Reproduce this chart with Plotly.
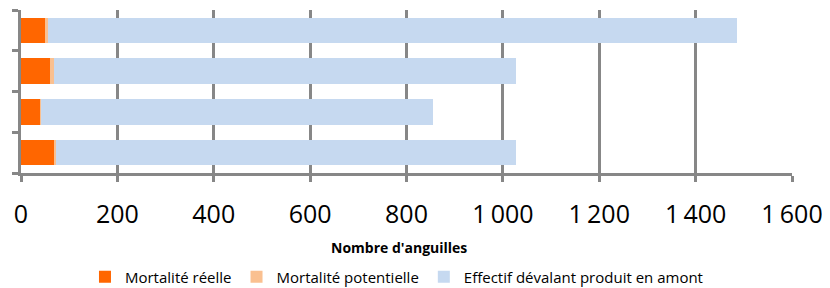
import plotly.graph_objects as go

categories = ["A", "B", "C", "D"]  # bottom to top
mortalite_reelle = [70, 40, 60, 50]
mortalite_potentielle = [3, 2, 8, 7]
effectif_amont = [954, 813, 959, 1428]
x_ticks = [0, 200, 400, 600, 800, 1000, 1200, 1400, 1600]
x_tick_labels = ["0", "200", "400", "600", "800", "1\u2009000", "1\u2009200", "1\u2009400", "1\u2009600"]

GRAY = "#878787"
FONT = "Open Sans, sans-serif"

fig = go.Figure()
fig.add_trace(go.Bar(y=categories, x=mortalite_reelle, orientation="h",
                     name="Mortalité réelle", marker=dict(color="#FF6600", line=dict(width=0))))
fig.add_trace(go.Bar(y=categories, x=mortalite_potentielle, orientation="h",
                     name="Mortalité potentielle", marker=dict(color="#FAC090", line=dict(width=0))))
fig.add_trace(go.Bar(y=categories, x=effectif_amont, orientation="h",
                     name="Effectif dévalant produit en amont", marker=dict(color="#C6D9F0", line=dict(width=0))))

# page body has an 8px margin: figure is 822x280 placed at (8, 8)
fig.update_layout(
    width=822, height=280,
    barmode="stack", bargap=0.38,
    plot_bgcolor="white", paper_bgcolor="white",
    margin=dict(l=13, r=38, t=2, b=115, autoexpand=False),
    font=dict(family=FONT, color="#000000"),
    showlegend=True,
    legend=dict(orientation="h", x=0.487, xanchor="center", y=-0.638, yanchor="middle",
                font=dict(size=15, family=FONT), itemwidth=30, tracegroupgap=0,
                traceorder="normal"),
    annotations=[dict(text="<b>Nombre d'anguilles</b>", x=0.49, xref="paper",
                      y=-0.454, yref="paper", yanchor="middle", showarrow=False,
                      font=dict(size=14, family=FONT))],
)
fig.update_xaxes(range=[0, 1600], tickvals=x_ticks, ticktext=x_tick_labels,
                 showgrid=True, gridcolor=GRAY, gridwidth=3,
                 showline=True, linecolor=GRAY, linewidth=3,
                 ticks="outside", ticklen=6, tickwidth=3, tickcolor=GRAY,
                 tickfont=dict(size=25, family=FONT), zeroline=False,
                 automargin=False, ticklabelstandoff=11, ticklabeloverflow="allow")
fig.update_yaxes(showticklabels=False, showgrid=False, showline=True, linecolor=GRAY,
                 linewidth=3, ticks="outside", ticklen=6, tickwidth=3, tickcolor=GRAY,
                 tickson="boundaries", zeroline=False, automargin=False)

fig.write_html("out.html")
